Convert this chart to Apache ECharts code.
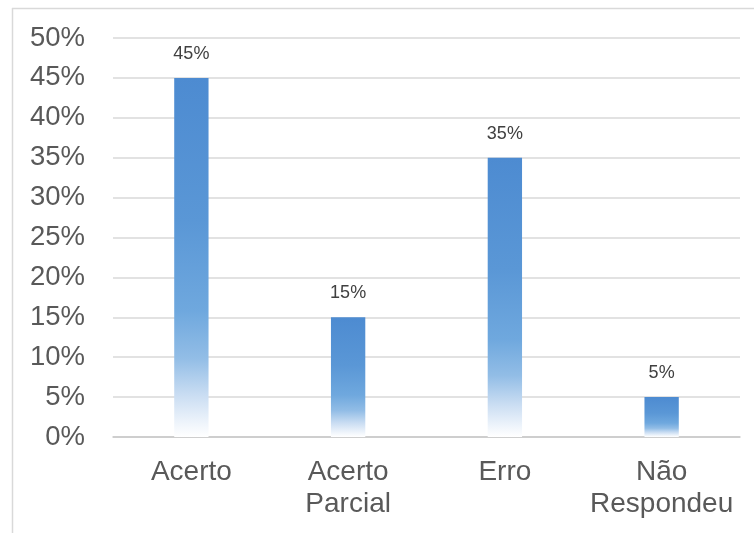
<!DOCTYPE html>
<html>
<head>
<meta charset="utf-8">
<script src="https://cdn.jsdelivr.net/npm/echarts@6/dist/echarts.min.js"></script>
<style>
  html, body { margin: 0; padding: 0; background: #ffffff; }
  #chart { width: 754px; height: 533px; }
</style>
</head>
<body>
<div id="chart"></div>
<script>
// Response categories and their shares (percent)
var categories = ['Acerto', 'Acerto\nParcial', 'Erro', 'Não\nRespondeu'];
var shares = [45, 15, 35, 5];
var yTicks = { min: 0, max: 50, step: 5 };

var chart = echarts.init(document.getElementById('chart'), null, { renderer: 'canvas' });

// Blue fading to white toward the base of each bar
var barFill = new echarts.graphic.LinearGradient(0, 0, 0, 1, [
  { offset: 0, color: '#4d8bd1' },
  { offset: 0.4, color: '#5a97d6' },
  { offset: 0.65, color: '#6fa8de' },
  { offset: 0.78, color: '#92bde6' },
  { offset: 0.88, color: '#c8dcf2' },
  { offset: 0.96, color: '#eef4fb' },
  { offset: 1, color: '#ffffff' }
]);

var axisFont = 'Liberation Sans, Arial, sans-serif';

chart.setOption({
  animation: false,
  backgroundColor: '#ffffff',
  graphic: [
    { type: 'line', shape: { x1: 12, y1: 8.5, x2: 754, y2: 8.5 }, style: { stroke: '#d9d9d9', lineWidth: 1.5 } },
    { type: 'line', shape: { x1: 12.5, y1: 8, x2: 12.5, y2: 533 }, style: { stroke: '#d9d9d9', lineWidth: 1.5 } }
  ],
  grid: { left: 113, right: 14, top: 38, bottom: 96 },
  xAxis: {
    type: 'category',
    data: categories,
    axisTick: { show: false },
    axisLine: { show: true, lineStyle: { color: '#c8c8c8', width: 1.5 } },
    axisLabel: {
      color: '#595959',
      fontFamily: axisFont,
      fontSize: 28,
      lineHeight: 32,
      margin: 19,
      interval: 0
    }
  },
  yAxis: {
    type: 'value',
    min: yTicks.min,
    max: yTicks.max,
    interval: yTicks.step,
    axisLine: { show: false },
    axisTick: { show: false },
    splitLine: { lineStyle: { color: '#d9d9d9', width: 1.5 } },
    axisLabel: {
      color: '#595959',
      fontFamily: axisFont,
      fontSize: 27.5,
      margin: 28,
      formatter: function (v) { return v + '%'; }
    }
  },
  series: [{
    type: 'bar',
    data: shares,
    barWidth: '21.9%',
    itemStyle: { color: barFill },
    label: {
      show: true,
      position: 'top',
      distance: 15,
      color: '#404040',
      fontFamily: axisFont,
      fontSize: 18,
      formatter: function (p) { return p.value + '%'; }
    }
  }]
});
</script>
</body>
</html>
